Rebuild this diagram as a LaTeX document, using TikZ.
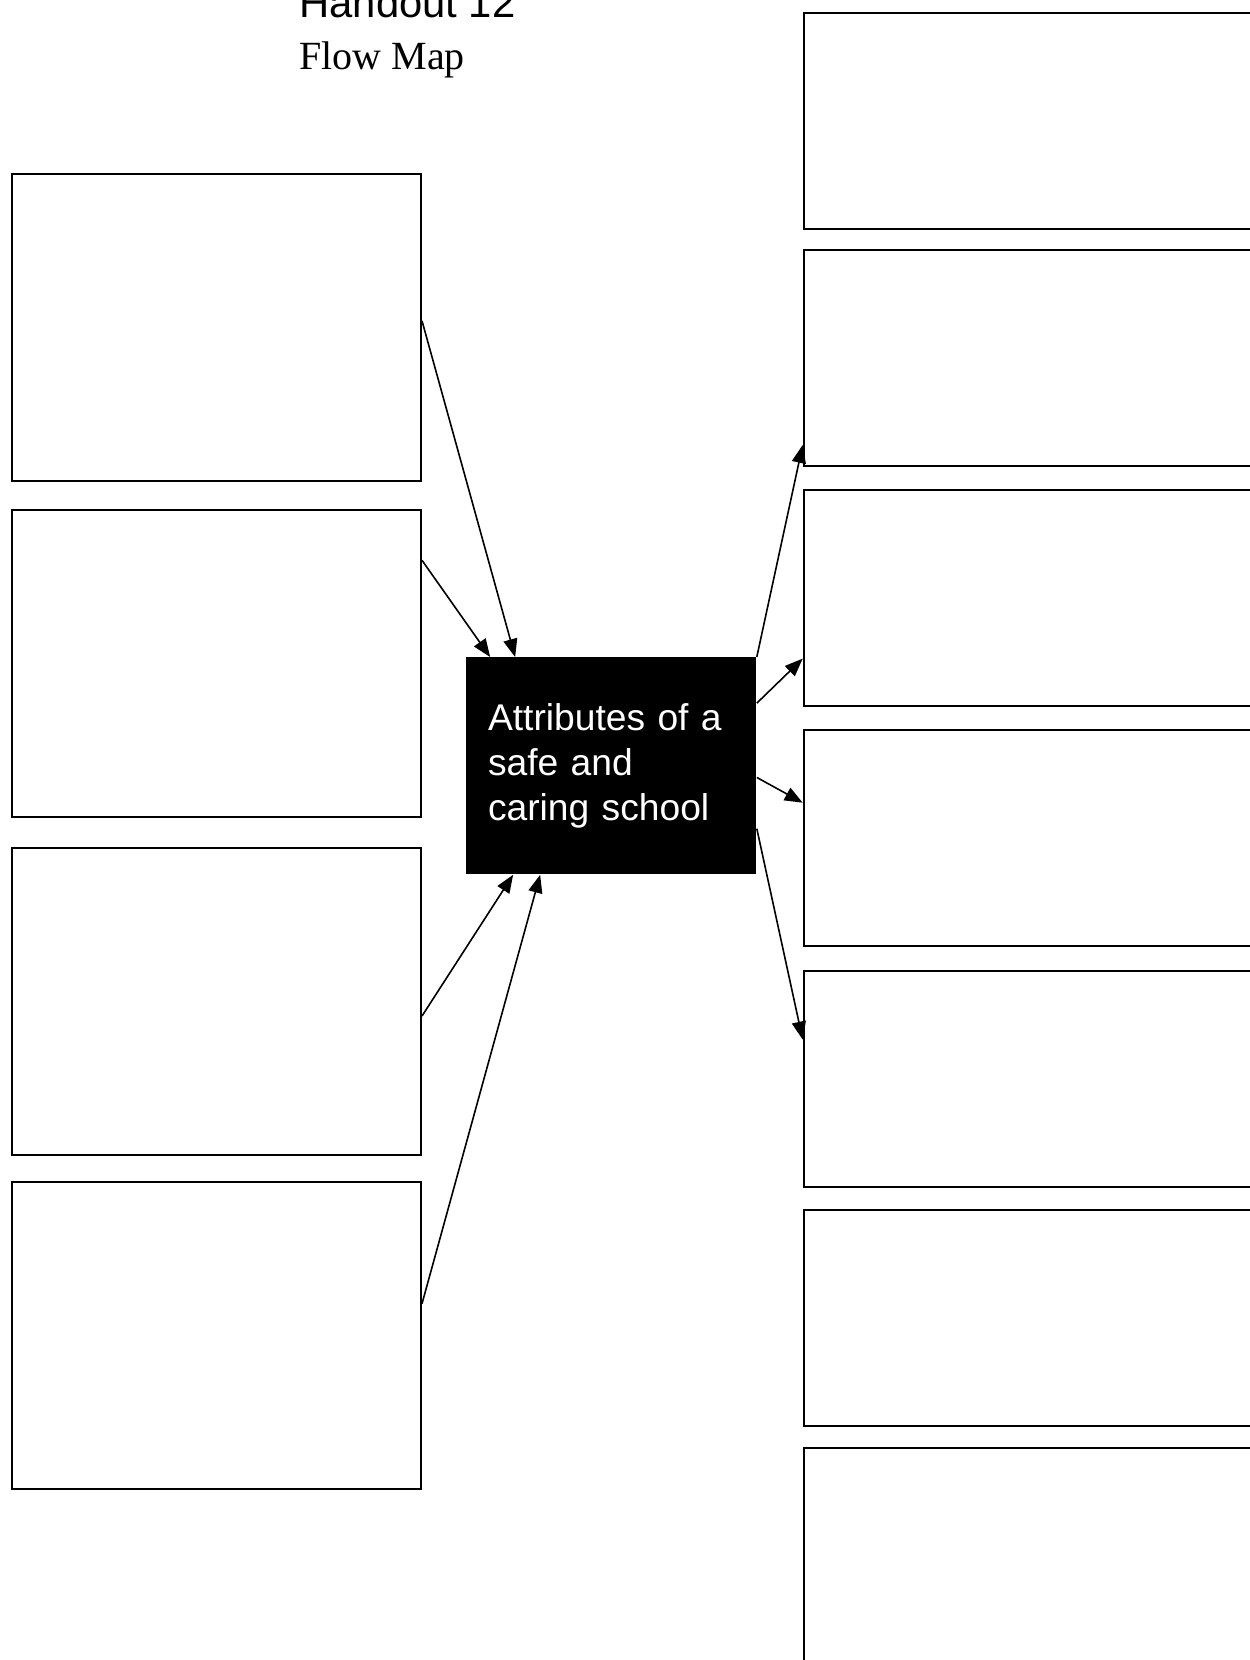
\documentclass[tikz,border=0pt]{standalone}
\usepackage{fontspec}
\newfontfamily\mapsans{Liberation Sans}
\newfontfamily\mapserif{Liberation Serif}
\usepackage{tikz}
\usetikzlibrary{arrows.meta,positioning,calc}

\tikzset{
  leftbox/.style={draw, line width=1pt, inner sep=0pt, anchor=north west,
    minimum width=204.5pt, minimum height=153.5pt},
  rightbox/.style={draw, line width=1pt, inner sep=0pt, anchor=north west,
    minimum width=250pt, minimum height=108pt},
  centerbox/.style={fill=black, text=white, anchor=north west, inner ysep=0pt,
    inner xsep=10.8pt, minimum width=145pt, minimum height=108.5pt,
    text width=123.4pt, align=left, font=\mapsans\fontsize{18.6}{22.6}\selectfont},
  flow/.style={line width=0.8pt, -{Triangle[length=9pt,width=7pt]}}
}

\begin{document}
\begin{tikzpicture}[x=0.5pt,y=-0.5pt]
  \useasboundingbox (0,0) rectangle (1249,1660);
  % heading
  \node[anchor=base west, inner sep=0pt, font=\mapsans\fontsize{20.9}{24}\selectfont] (head) at (299,17) {Handout 12};
  \node[anchor=base west, inner sep=0pt, font=\mapserif\fontsize{20}{24}\selectfont] (sub) at (299,69.3) {Flow Map};
  % boxes on the left and on the right
  \foreach \y [count=\i] in {172.5,509,847,1181}
    \node[leftbox] (lb\i) at (11,\y) {};
  \foreach \y [count=\i] in {12,248.7,489,729,969.6,1208.8,1447}
    \node[rightbox] (rb\i) at (802.7,\y) {};
  \node[centerbox] (attr) at (466,657) {Attributes of a\\ safe and\\ caring school};
  % arrows into the centre
  \foreach \src/\a/\side/\b in {lb1/.48/north/.169, lb2/.166/north/.083, lb3/.547/south/.162, lb4/.397/south/.255}
    \draw[flow] ($(\src.north east)!\a!(\src.south east)$) -- ($(attr.\side\space west)!\b!(attr.\side\space east)$);
  % arrows out of the centre
  \foreach \a/\dst/\b in {0/rb2/.9, .212/rb3/.778, .553/rb4/.338, .788/rb5/.321}
    \draw[flow] ($(attr.north east)!\a!(attr.south east)$) -- ($(\dst.north west)!\b!(\dst.south west)$);
\end{tikzpicture}
\end{document}
